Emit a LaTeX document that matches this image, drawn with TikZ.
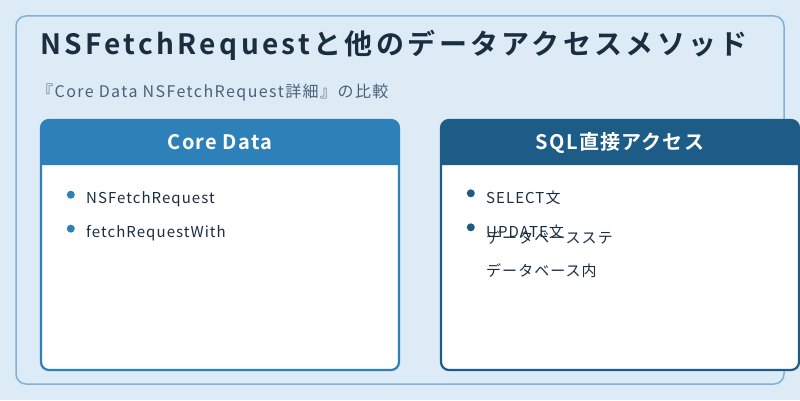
\documentclass[tikz,border=0pt]{standalone}
\usepackage{fontspec}
\setmainfont{Noto Sans CJK JP}[BoldFont={Noto Sans CJK JP Bold}]
\newfontfamily\titlefont{Noto Sans CJK JP Bold}[LetterSpace=12]
\newfontfamily\headfont{Noto Sans CJK JP Bold}[LetterSpace=6]
\newfontfamily\bodyfont{Noto Sans CJK JP}[LetterSpace=7]
\newfontfamily\subfont{Noto Sans CJK JP}[LetterSpace=9]
\usepackage{tikz}
\usetikzlibrary{positioning, calc}
\usepackage{xcolor}
\definecolor{paleSky}{RGB}{221,235,247}
\definecolor{frameBlue}{RGB}{126,179,214}
\definecolor{coreBlue}{RGB}{46,128,184}
\definecolor{sqlNavy}{RGB}{30,92,136}
\definecolor{inkBlue}{RGB}{27,46,63}
\definecolor{slateGray}{RGB}{74,98,120}

\begin{document}
\begin{tikzpicture}[
  x=1pt, y=1pt,
  card/.style={
    rectangle, rounded corners=8pt,
    draw=#1, fill=white, line width=2.2pt,
    minimum width=358pt, minimum height=250pt,
    inner sep=0pt, outer sep=0pt
  },
  head/.style={
    text=white, inner sep=0pt,
    font=\fontsize{20}{24}\headfont
  },
  item/.style={
    anchor=base west, inner sep=0pt, text=inkBlue,
    font=\fontsize{15}{18}\bodyfont
  },
  dot/.style={circle, fill=#1, inner sep=0pt, minimum size=8pt}
]
  \fill[paleSky] (0,0) rectangle (800,400);
  \useasboundingbox (0,0) rectangle (800,400);
  \draw[frameBlue, line width=1.5pt, rounded corners=10pt]
    (16,16) rectangle (784,384);

  \node[anchor=base west, inner sep=0pt, text=inkBlue,
    font=\fontsize{28}{34}\titlefont] (title) at (40,345)
    {NSFetchRequestと他のデータアクセスメソッド};
  \node[anchor=base west, inner sep=0pt, text=slateGray,
    font=\fontsize{16}{20}\subfont] (subtitle) at (37,303)
    {『Core Data NSFetchRequest詳細』の比較};

  % Cards
  \node[card=coreBlue] (core) at (220,155) {};
  \node[card=sqlNavy] (sql) at (620,155) {};
  \foreach \c/\col in {core/coreBlue, sql/sqlNavy}
    \fill[\col] ([yshift=-45pt]\c.north west) [rounded corners=8pt]
      -- (\c.north west) -- (\c.north east) [sharp corners]
      -- ([yshift=-45pt]\c.north east) -- cycle;

  \node[head] (coreHead) at ([yshift=-22.5pt]core.north) {Core Data};
  \node[head] (sqlHead) at ([yshift=-22.5pt]sql.north) {SQL直接アクセス};

  % Items
  \node[item] (core1) at (86,197) {NSFetchRequest};
  \node[item] (core2) at (86,163) {fetchRequestWith};
  \node[item] (sql1) at (486,197) {SELECT文};
  \node[item] (sql2) at (486,163) {UPDATE文};
  \node[item] (sql3) at (486,157) {データベースステ};
  \node[item] (sql4) at (486,124) {データベース内};

  \foreach \n/\col in {core1/coreBlue, core2/coreBlue, sql1/sqlNavy, sql2/sqlNavy}
    \node[dot=\col, left=11pt of \n.west, yshift=4pt] {};
\end{tikzpicture}
\end{document}
